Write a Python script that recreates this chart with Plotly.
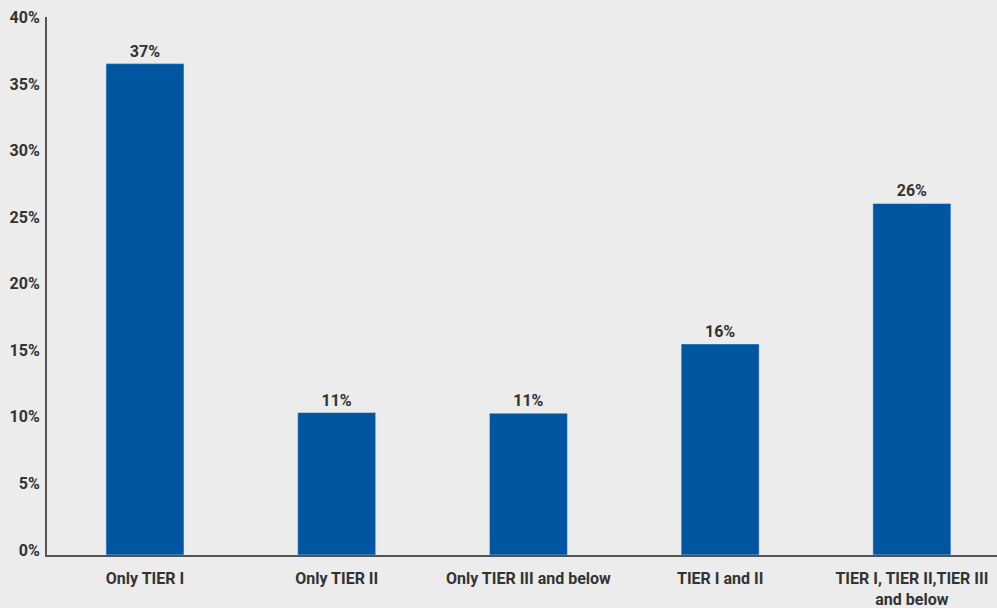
import plotly.graph_objects as go

categories = ["Only TIER I", "Only TIER II", "Only TIER III and below",
              "TIER I and II", "TIER I, TIER II,TIER III<br>and below"]
values = [36.9, 10.7, 10.65, 15.85, 26.4]
labels = ["37%", "11%", "11%", "16%", "26%"]
tick_vals = [0, 5, 10, 15, 20, 25, 30, 35, 40]
tick_text = ["0%", "5%", "10%", "15%", "20%", "25%", "30%", "35%", "40%"]

fig = go.Figure(go.Bar(
    x=categories, y=values, text=labels, textposition="outside",
    marker_color="#0057A0", width=0.407,
    textfont=dict(family="Roboto", size=16, color="#333333", weight="bold"),
    cliponaxis=False,
))

fig.update_layout(
    width=997, height=608,
    margin=dict(l=47, r=0, t=17, b=53),
    paper_bgcolor="#EBECEB", plot_bgcolor="#EBECEB",
    font=dict(family="Roboto", size=16, color="#333333", weight="bold"),
    showlegend=False,
)
fig.update_xaxes(
    range=[-0.511, 4.444], showgrid=False, showline=True, linecolor="#555555",
    linewidth=2, ticks="", ticklabelstandoff=8,
    tickfont=dict(size=16, color="#333333", weight="bold"),
)
fig.update_yaxes(
    range=[0, 40.4], tickvals=tick_vals, ticktext=tick_text, showgrid=False,
    showline=True, linecolor="#555555", linewidth=2, ticks="", zeroline=False,
    ticklabelshift=-5, ticklabelstandoff=2,
    tickfont=dict(size=16, color="#333333", weight="bold"),
)

fig.write_html("out.html")
